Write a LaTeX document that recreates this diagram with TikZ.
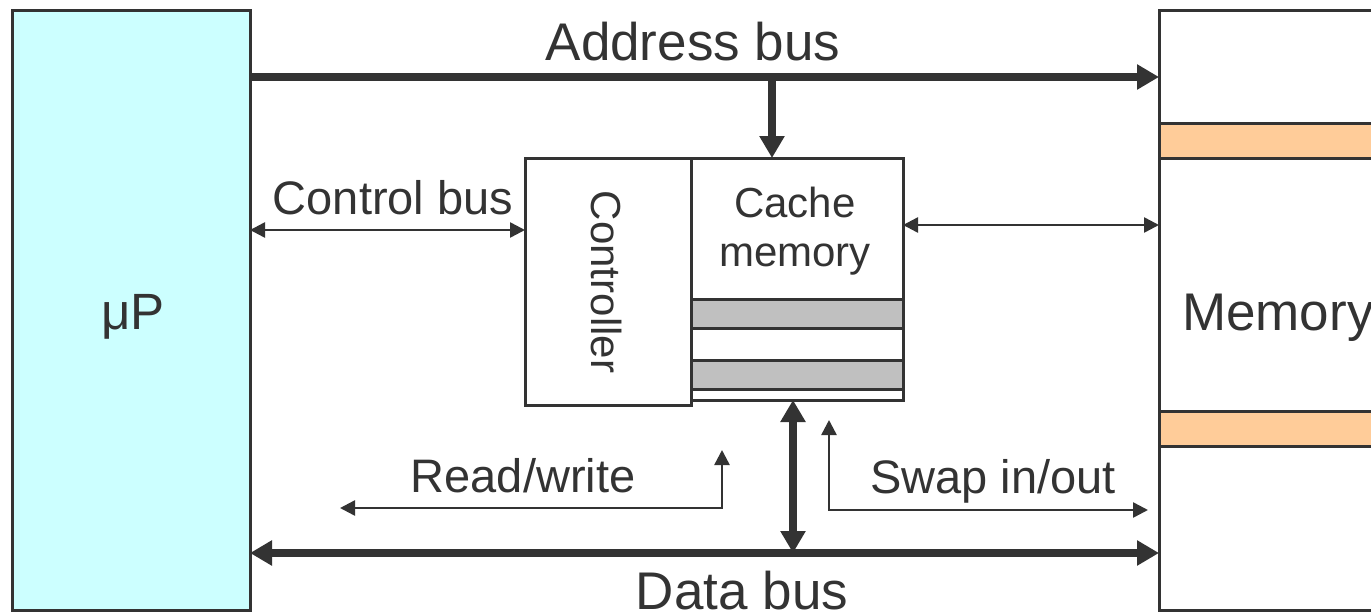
\documentclass[tikz,border=0pt]{standalone}
\usepackage{fontspec}
\setmainfont{Liberation Sans}
\usetikzlibrary{arrows.meta}
\definecolor{ink}{HTML}{333333}
\definecolor{cpufill}{HTML}{CCFFFF}
\definecolor{bandfill}{HTML}{FFCC99}
\definecolor{rowfill}{HTML}{C0C0C0}
\begin{document}
\begin{tikzpicture}[x=1pt,y=-1pt,
  box/.style={draw=ink,line width=3pt,inner sep=0pt,outer sep=0pt,anchor=north west},
  txt/.style={text=ink,inner sep=0pt,anchor=base},
  big/.style={font=\fontsize{53}{60}\selectfont},
  mid/.style={font=\fontsize{47}{54}\selectfont},
  small/.style={font=\fontsize{42}{49}\selectfont},
  bus/.style={draw=ink,line width=8pt},
  busend/.style={-{Triangle[length=22pt,width=24pt]}},
  busboth/.style={{Triangle[length=22pt,width=24pt]}-{Triangle[length=22pt,width=24pt]}},
  wire/.style={draw=ink,line width=2.5pt},
  wireboth/.style={{Triangle[length=15pt,width=15pt]}-{Triangle[length=15pt,width=15pt]}},
  row/.style={draw=ink,line width=3pt}]
\useasboundingbox (0,0) rectangle (1371,613);

% processor
\node[box,fill=cpufill,minimum width=238pt,minimum height=600pt] (mP) at (12,10) {};
\node[txt,font=\fontsize{51}{58}\selectfont] (mPtxt) at (133,329) {μP};

% main memory with its two highlighted rows
\node[box,fill=white,minimum width=260pt,minimum height=600pt] (mem) at (1159,10) {};
\filldraw[row,fill=bandfill] (1159,123) rectangle (1420,158);
\filldraw[row,fill=bandfill] (1159,411) rectangle (1420,446);
\node[txt,big,anchor=base west] (memtxt) at (1182,330) {Memory};

% cache controller and cache memory
\node[box,fill=white,minimum width=166pt,minimum height=247pt] (ctrl) at (525,158) {};
\node[txt,small,rotate=-90,anchor=center] (ctrltxt) at (607,282) {Controller};
\node[box,fill=white,minimum width=212pt,minimum height=242pt] (cache) at (691,158) {};
\filldraw[row,fill=rowfill] (691,299) rectangle (903,328);
\filldraw[row,fill=rowfill] (691,360) rectangle (903,389);
\node[txt,small,align=center,anchor=center] (cachetxt) at (795,231) {Cache\\memory};

% bus rows and tap points
\coordinate (abrow) at (0,77);
\coordinate (abtap) at (772,77);
\coordinate (cbrow) at (0,230);
\coordinate (cmrow) at (0,225);
\coordinate (dbrow) at (0,553);
\coordinate (dbtap) at (793,553);
\coordinate (rwtop) at (722,450);
\coordinate (rwturn) at (722,508);
\coordinate (rwend) at (340,508);
\coordinate (swtop) at (829,420);
\coordinate (swturn) at (829,510);
\coordinate (swend) at (1148,510);

% address bus
\draw[bus,busend] (mP.east |- abrow) -- (mem.west |- abrow);
\draw[bus,busend] (abtap) -- (abtap |- cache.north);
\node[txt,big] (abtxt) at (693,60) {Address bus};

% control bus
\draw[wire,wireboth] (mP.east |- cbrow) -- (ctrl.west |- cbrow);
\node[txt,mid] (cbtxt) at (393,214) {Control bus};

% cache to memory
\draw[wire,wireboth] (cache.east |- cmrow) -- (mem.west |- cmrow);

% data bus
\draw[bus,busboth] (mP.east |- dbrow) -- (mem.west |- dbrow);
\draw[bus,busboth] (dbtap |- cache.south) -- (dbtap);
\node[txt,big] (dbtxt) at (742,609) {Data bus};

% read/write and swap paths
\draw[wire,wireboth] (rwtop) -- (rwturn) -- (rwend);
\node[txt,mid] (rwtxt) at (523,492) {Read/write};
\draw[wire,wireboth] (swtop) -- (swturn) -- (swend);
\node[txt,mid] (swtxt) at (993,493) {Swap in/out};
\end{tikzpicture}
\end{document}
